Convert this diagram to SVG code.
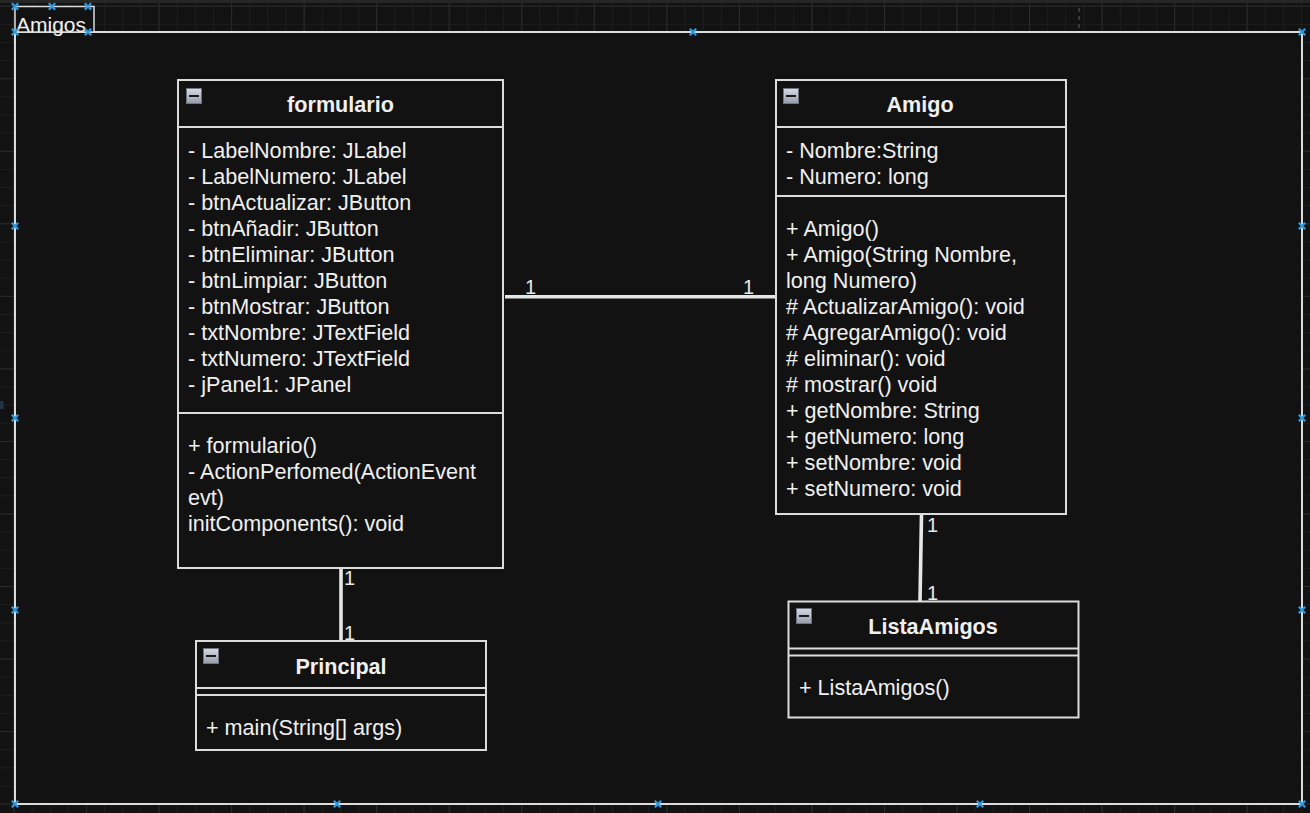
<svg xmlns="http://www.w3.org/2000/svg" xmlns:xlink="http://www.w3.org/1999/xlink" width="1310" height="813" viewBox="0 0 1310 813">
<style>
  .box { fill: #121212; stroke: #dcdcdc; stroke-width: 2; }
  .sep { stroke: #dcdcdc; stroke-width: 2; fill: none; }
  .title { font-family: "Liberation Sans", Arial, sans-serif; font-size: 21.6px; font-weight: bold; fill: #f0f0f0; text-anchor: middle; }
  .txt { font-family: "Liberation Sans", Arial, sans-serif; font-size: 21.6px; fill: #f0f0f0; }
  .mult { font-family: "Liberation Sans", Arial, sans-serif; font-size: 20px; fill: #e8e8e8; }
  .edge { stroke: #e6e6e6; stroke-width: 3.6; fill: none; }
  .handle { stroke: #2e9be0; stroke-width: 2.2; fill: none; }
</style>
<defs>
  <pattern id="minor" x="13.46" y="5.7" width="18.135" height="18.135" patternUnits="userSpaceOnUse">
    <path d="M0.5 0 V18.135 M0 0.5 H18.135" stroke="#1d1d1d" stroke-width="1" fill="none"/>
  </pattern>
  <pattern id="major" x="13.46" y="5.7" width="72.54" height="72.54" patternUnits="userSpaceOnUse">
    <path d="M0.5 0 V72.54 M0 0.5 H72.54" stroke="#2a2a2a" stroke-width="1" fill="none"/>
  </pattern>
  <linearGradient id="icoGrad" x1="0" y1="0" x2="0" y2="1">
    <stop offset="0" stop-color="#d6dae2"/>
    <stop offset="1" stop-color="#959cab"/>
  </linearGradient>
  <g id="collapse">
    <rect x="0.5" y="0.5" width="15" height="15" fill="url(#icoGrad)" stroke="#6d7482" stroke-width="1"/>
    <line x1="3" y1="8" x2="13" y2="8" stroke="#1a1a1a" stroke-width="2"/>
  </g>
  <path id="hx" d="M-3.2 -3.2 L3.2 3.2 M-3.2 3.2 L3.2 -3.2"/>
</defs>

<!-- background with grid -->
<rect x="0" y="0" width="1310" height="813" fill="#121212"/>
<rect x="0" y="0" width="1310" height="813" fill="url(#minor)"/>
<rect x="0" y="0" width="1310" height="813" fill="url(#major)"/>
<rect x="0" y="0" width="1310" height="3" fill="#262626"/>
<line x1="1079" y1="8" x2="1079" y2="32" stroke="#3a3a3a" stroke-width="2" stroke-dasharray="4 4"/>
<rect x="0" y="401" width="3.5" height="8" fill="#1f3447"/>

<!-- package frame -->
<g id="package-amigos">
  <rect x="15" y="32" width="1287" height="772" fill="#121212" stroke="#dcdcdc" stroke-width="2"/>
  <rect x="15" y="6.5" width="79" height="25.5" fill="#121212" stroke="#dcdcdc" stroke-width="1.5"/>
  <text x="16" y="31.5" class="txt" style="font-size:21px">Amigos</text>
  <g class="handle">
    <use xlink:href="#hx" x="15" y="6.5"/>
    <use xlink:href="#hx" x="52" y="6.5"/>
    <use xlink:href="#hx" x="88" y="6.5"/>
    <use xlink:href="#hx" x="15" y="32"/>
    <use xlink:href="#hx" x="88" y="32"/>
    <use xlink:href="#hx" x="693" y="32"/>
    <use xlink:href="#hx" x="1302" y="32"/>
    <use xlink:href="#hx" x="15" y="226"/>
    <use xlink:href="#hx" x="15" y="418"/>
    <use xlink:href="#hx" x="15" y="610"/>
    <use xlink:href="#hx" x="15" y="804"/>
    <use xlink:href="#hx" x="337" y="804"/>
    <use xlink:href="#hx" x="658" y="804"/>
    <use xlink:href="#hx" x="980" y="804"/>
    <use xlink:href="#hx" x="1302" y="804"/>
    <use xlink:href="#hx" x="1302" y="226"/>
    <use xlink:href="#hx" x="1302" y="418"/>
    <use xlink:href="#hx" x="1302" y="610"/>
  </g>
</g>

<!-- connectors -->
<g id="connectors">
  <line class="edge" x1="505" y1="296.7" x2="776" y2="296.7"/>
  <text class="mult" x="525" y="294">1</text>
  <text class="mult" x="743" y="294">1</text>

  <line class="edge" x1="341" y1="569" x2="341" y2="641"/>
  <text class="mult" x="344" y="585">1</text>
  <text class="mult" x="344" y="640">1</text>

  <line class="edge" x1="921.5" y1="515" x2="920" y2="601"/>
  <text class="mult" x="927" y="532">1</text>
  <text class="mult" x="927" y="600">1</text>
</g>

<!-- formulario -->
<g id="node-formulario">
  <rect class="box" x="178" y="80" width="325" height="488"/>
  <line class="sep" x1="178" y1="127" x2="503" y2="127"/>
  <line class="sep" x1="178" y1="413" x2="503" y2="413"/>
  <use xlink:href="#collapse" x="186" y="88"/>
  <text class="title" x="340.5" y="112">formulario</text>
  <text class="txt" x="188" y="158">- LabelNombre: JLabel</text>
  <text class="txt" x="188" y="184">- LabelNumero: JLabel</text>
  <text class="txt" x="188" y="210">- btnActualizar: JButton</text>
  <text class="txt" x="188" y="236">- btnAñadir: JButton</text>
  <text class="txt" x="188" y="262">- btnEliminar: JButton</text>
  <text class="txt" x="188" y="288">- btnLimpiar: JButton</text>
  <text class="txt" x="188" y="314">- btnMostrar: JButton</text>
  <text class="txt" x="188" y="340">- txtNombre: JTextField</text>
  <text class="txt" x="188" y="366">- txtNumero: JTextField</text>
  <text class="txt" x="188" y="392">- jPanel1: JPanel</text>
  <text class="txt" x="188" y="453">+ formulario()</text>
  <text class="txt" x="188" y="479">- ActionPerfomed(ActionEvent</text>
  <text class="txt" x="188" y="505">evt)</text>
  <text class="txt" x="188" y="531">initComponents(): void</text>
</g>

<!-- Amigo -->
<g id="node-amigo">
  <rect class="box" x="776" y="80" width="290" height="434"/>
  <line class="sep" x1="776" y1="127" x2="1066" y2="127"/>
  <line class="sep" x1="776" y1="196" x2="1066" y2="196"/>
  <use xlink:href="#collapse" x="783" y="88"/>
  <text class="title" x="920" y="112">Amigo</text>
  <text class="txt" x="786" y="158">- Nombre:String</text>
  <text class="txt" x="786" y="184">- Numero: long</text>
  <text class="txt" x="786" y="236">+ Amigo()</text>
  <text class="txt" x="786" y="262">+ Amigo(String Nombre,</text>
  <text class="txt" x="786" y="288">long Numero)</text>
  <text class="txt" x="786" y="314"># ActualizarAmigo(): void</text>
  <text class="txt" x="786" y="340"># AgregarAmigo(): void</text>
  <text class="txt" x="786" y="366"># eliminar(): void</text>
  <text class="txt" x="786" y="392"># mostrar() void</text>
  <text class="txt" x="786" y="418">+ getNombre: String</text>
  <text class="txt" x="786" y="444">+ getNumero: long</text>
  <text class="txt" x="786" y="470">+ setNombre: void</text>
  <text class="txt" x="786" y="496">+ setNumero: void</text>
</g>

<!-- Principal -->
<g id="node-principal">
  <rect class="box" x="196" y="641" width="290" height="109"/>
  <line class="sep" x1="196" y1="688" x2="486" y2="688"/>
  <line class="sep" x1="196" y1="695" x2="486" y2="695"/>
  <use xlink:href="#collapse" x="203" y="648"/>
  <text class="title" x="341" y="674">Principal</text>
  <text class="txt" x="206" y="735">+ main(String[] args)</text>
</g>

<!-- ListaAmigos -->
<g id="node-listaamigos">
  <rect class="box" x="788.5" y="601.5" width="290" height="116"/>
  <line class="sep" x1="788.5" y1="648.5" x2="1078.5" y2="648.5"/>
  <line class="sep" x1="788.5" y1="655.5" x2="1078.5" y2="655.5"/>
  <use xlink:href="#collapse" x="796" y="608"/>
  <text class="title" x="933" y="634">ListaAmigos</text>
  <text class="txt" x="799" y="695">+ ListaAmigos()</text>
</g>
</svg>
